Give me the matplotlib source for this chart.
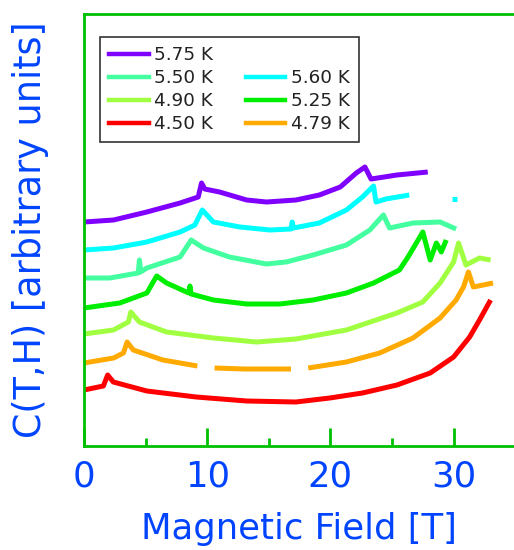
import matplotlib
matplotlib.use("Agg")
import matplotlib.pyplot as plt
from matplotlib.lines import Line2D
from matplotlib.ticker import MultipleLocator

# ---- data (field in T, heat capacity in arbitrary units, offset curves) ----
labels = ["5.75 K", "5.60 K", "5.50 K", "5.25 K", "4.90 K", "4.79 K", "4.50 K"]
colors = ["#8000ff", "#00ffff", "#44ffa0", "#00ee00", "#a0ff40", "#ffaa00", "#ff0000"]

h_575 = [0.0, 2.4, 5.1, 7.8, 9.27, 9.54, 9.8, 11.0, 13.2, 14.8, 17.2, 19.1, 20.8, 22.1, 22.8, 23.3, 25.4, 27.9]
c_575 = [224, 226, 234, 243, 249, 263, 257, 254, 246, 244, 246, 251, 259, 273, 279, 267, 271, 274]

h_560 = [0.0, 2.4, 5.1, 7.8, 9.0, 9.6, 10.5, 12.65, 15.1, 16.8, 16.9, 17.0, 19.1, 21.3, 22.6, 23.5, 23.7, 24.5, 26.4]
c_560 = [196, 198, 204, 214, 221, 236, 224, 219, 216, 217, 224, 218, 223, 236, 249, 260, 244, 247, 251]
h_560b = [29.9, 30.3]
c_560b = [247, 247]

h_550 = [0.0, 2.1, 4.4, 4.5, 4.6, 5.1, 7.8, 8.7, 9.7, 11.8, 14.8, 16.4, 18.6, 21.3, 23.2, 24.3, 24.8, 26.7, 28.9, 30.2]
c_550 = [168, 168, 173, 186, 174, 178, 189, 206, 198, 189, 182, 184, 191, 201, 216, 231, 218, 223, 224, 217]

h_525 = [0.0, 2.9, 5.1, 5.9, 6.7, 8.5, 8.6, 8.7, 10.5, 13.2, 15.9, 18.6, 21.3, 23.5, 25.6, 26.3, 27.5, 28.1, 28.6, 29.0, 29.4]
c_525 = [138, 143, 153, 170, 163, 153, 160, 152, 146, 142, 142, 146, 153, 163, 176, 189, 214, 186, 203, 194, 206]

h_490 = [0.0, 2.4, 3.6, 3.8, 4.5, 6.7, 10.5, 14.0, 17.2, 21.3, 25.4, 27.5, 28.9, 30.0, 30.4, 31.0, 32.1, 33.0]
c_490 = [112, 116, 124, 134, 124, 114, 108, 104, 107, 116, 133, 144, 163, 184, 203, 181, 188, 186]

h_479a = [0.0, 2.4, 3.2, 3.5, 4.0, 6.4, 9.2]
c_479a = [83, 88, 93, 104, 96, 86, 80]
h_479b = [10.6, 13.0, 16.8]
c_479b = [78, 77, 77]
h_479c = [18.2, 21.3, 24.0, 26.7, 28.9, 30.2, 30.8, 31.2, 31.6, 33.2]
c_479c = [78, 84, 93, 108, 128, 146, 159, 174, 159, 163]

h_450 = [0.0, 1.57, 1.92, 2.38, 5.1, 9.1, 13.2, 17.2, 19.95, 22.6, 25.4, 28.1, 30.0, 31.3, 32.1, 33.0]
c_450 = [56, 60, 71, 64, 55, 49, 45, 44, 48, 53, 61, 73, 89, 109, 126, 146]

series = [
    [(h_575, c_575)],
    [(h_560, c_560), (h_560b, c_560b)],
    [(h_550, c_550)],
    [(h_525, c_525)],
    [(h_490, c_490)],
    [(h_479a, c_479a), (h_479b, c_479b), (h_479c, c_479c)],
    [(h_450, c_450)],
]

BLUE = "#0044ff"
GREEN = "#00c000"

fig = plt.figure(figsize=(5.14, 5.5), dpi=100)
ax = fig.add_axes([84 / 514, 1 - 446 / 550, 1 - 84 / 514, (446 - 14) / 550])

for segs, col in zip(series, colors):
    for h, c in segs:
        ax.plot(h, c, color=col, lw=3.6, solid_capstyle="butt", solid_joinstyle="round")

ax.set_xlim(0, 34.9)
ax.set_ylim(0, 432)

for s in ["left", "top", "bottom"]:
    ax.spines[s].set_color(GREEN)
    ax.spines[s].set_linewidth(2)
ax.spines["right"].set_visible(False)

ax.xaxis.set_major_locator(MultipleLocator(10))
ax.xaxis.set_minor_locator(MultipleLocator(5))
ax.tick_params(axis="x", which="major", direction="in", length=13, width=2, color=GREEN,
               labelcolor=BLUE, labelsize=25.5, pad=10)
ax.tick_params(axis="x", which="minor", direction="in", length=6, width=2, color=GREEN)
ax.set_yticks([])

ax.set_xlabel("Magnetic Field [T]", color=BLUE, fontsize=25.5, labelpad=13)
ax.set_ylabel("C(T,H) [arbitrary units]", color=BLUE, fontsize=26.3, labelpad=25)

# legend: column-first order, with a blank slot in column 2
order = [0, 2, 4, 6, None, 1, 3, 5]
handles, texts = [], []
for i in order:
    if i is None:
        handles.append(Line2D([], [], color="none"))
        texts.append("")
    else:
        handles.append(Line2D([], [], color=colors[i], lw=3.2))
        texts.append(labels[i])
leg = ax.legend(handles, texts, ncol=2, loc="upper left",
                bbox_to_anchor=(100 / 514, 1 - 37 / 550), bbox_transform=fig.transFigure,
                fontsize=13.2, frameon=True, fancybox=False, edgecolor="black",
                handlelength=2.15, handletextpad=0.3, columnspacing=1.8,
                labelspacing=0.27, borderpad=0.5, borderaxespad=0)
leg.get_frame().set_linewidth(1.2)
for t in leg.get_texts():
    t.set_color("#222222")

fig.savefig("out.png", dpi=100)
